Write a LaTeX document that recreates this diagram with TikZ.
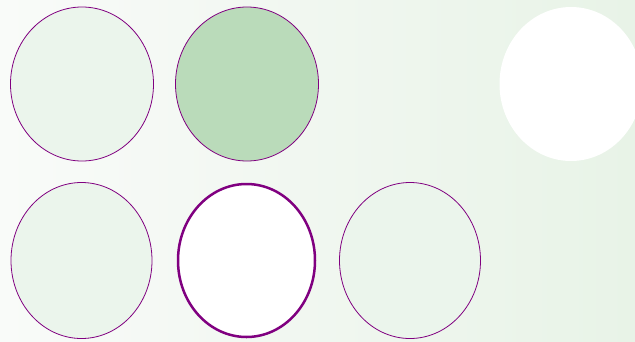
\documentclass[tikz,border=0pt]{standalone}
\usepackage{tikz}
\usetikzlibrary{shapes.geometric,positioning}

\definecolor{bgleft}{HTML}{F9FBF9}
\definecolor{bgright}{HTML}{E8F3E7}
\definecolor{palegreen}{HTML}{EBF5EC}
\definecolor{midgreen}{HTML}{BADBBA}
\definecolor{rim}{HTML}{800080}

\begin{document}
\begin{tikzpicture}[x=1pt,y=-1pt,
  blob/.style={ellipse,inner sep=0pt,minimum width=143pt,minimum height=154pt},
  pale/.style={blob,draw=rim,line width=0.8pt,fill=palegreen},
  hole/.style={blob,fill=white}]
\clip (0,0) rectangle (635,341);
\shade[left color=bgleft,right color=bgright] (0,0) rectangle (635,341);
\node[pale] (a1) at (82,84) {};
\node[pale,fill=midgreen] (a2) at (247,84) {};
\node[hole] (a3) at (571,84) {};
\node[pale,minimum width=141pt,minimum height=156pt] (b1) at (81.5,260.5) {};
\node[hole,draw=rim,line width=2.5pt,minimum width=137pt,minimum height=153pt] (b2) at (246.5,260.5) {};
\node[pale,minimum width=141pt,minimum height=156pt] (b3) at (410,260.5) {};
\end{tikzpicture}
\end{document}
